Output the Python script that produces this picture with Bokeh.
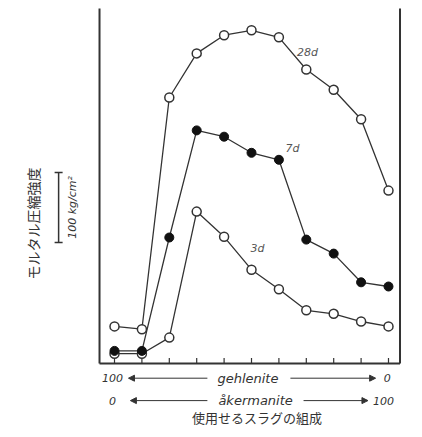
from bokeh.plotting import figure
from bokeh.models import Label, Arrow, NormalHead, TeeHead, Range1d
from bokeh.embed import file_html
from bokeh.resources import INLINE

# composition of the slag (akermanite %, gehlenite = 100 - akermanite)
akermanite = [0, 10, 20, 30, 40, 50, 60, 70, 80, 90, 100]
# mortar compressive strength, kg/cm2
s28 = [53, 49, 380, 443, 469, 476, 466, 420, 391, 349, 247]
s7 = [18, 18, 180, 333, 324, 301, 291, 177, 157, 116, 110]
s3 = [14, 14, 37, 217, 181, 134, 106, 76, 71, 60, 53]
series_labels = ["28d", "7d", "3d"]
ylabel = "モルタル圧縮強度"
scale_label = "100 kg/cm²"
xlabel = "使用せるスラグの組成"

INK = "#333333"
LATIN = "DejaVu Sans"
CJK = "Noto Sans CJK JP"

# the whole canvas is the data frame; the drawn box sits inside it
X0, X1 = -41.61, 112.41
Y0, Y1 = -105.71, 518.57
BOX_L, BOX_R, BOX_T = -5.47, 104.2, 507

p = figure(width=422, height=437, output_backend="svg", toolbar_location=None,
           x_range=Range1d(X0, X1), y_range=Range1d(Y0, Y1),
           x_axis_location=None, y_axis_location=None, title=None,
           min_border=0)
p.outline_line_color = None
p.grid.grid_line_color = None
p.background_fill_color = "white"
p.border_fill_color = "white"

# frame lines (left, right, bottom)
p.segment(x0=[BOX_L, BOX_R, BOX_L], y0=[0, 0, 0], x1=[BOX_L, BOX_R, BOX_R],
          y1=[BOX_T, BOX_T, 0], line_color=INK, line_width=2)
# inward ticks on bottom axis
p.segment(x0=akermanite, y0=[0] * len(akermanite), x1=akermanite,
          y1=[8] * len(akermanite), line_color=INK, line_width=1.2)

# series
p.line(akermanite, s3, line_color=INK, line_width=1.3)
p.scatter(akermanite, s3, size=9, marker="circle", fill_color="white",
          line_color=INK, line_width=1.5)
p.line(akermanite, s7, line_color=INK, line_width=1.3)
p.scatter(akermanite, s7, size=9, marker="circle", fill_color="#111111",
          line_color="#111111")
p.line(akermanite, s28, line_color=INK, line_width=1.3)
p.scatter(akermanite, s28, size=9, marker="circle", fill_color="white",
          line_color=INK, line_width=1.5)

# series labels
for txt, (lx, ly) in zip(series_labels, [(70.4, 444), (65, 307), (52.2, 164)]):
    p.add_layout(Label(x=lx, y=ly, text=txt, text_font=LATIN, text_font_style="italic",
                       text_font_size="11px", text_color="#555555",
                       text_align="center", text_baseline="middle"))

# x composition labels
def row_label(x, y, t, size="12px"):
    p.add_layout(Label(x=x, y=y, text=t, text_font=LATIN, text_font_style="italic",
                       text_font_size=size, text_color=INK,
                       text_align="center", text_baseline="middle"))

def arrow(x0, x1, y):
    p.add_layout(Arrow(end=NormalHead(size=6, fill_color=INK, line_color=INK),
                       x_start=x0, y_start=y, x_end=x1, y_end=y,
                       line_color=INK, line_width=1))

row_label(-0.7, -21, "100", "11px")
arrow(33.9, 5.1, -21)
row_label(48.7, -21, "gehlenite", "13px")
arrow(64.2, 95.3, -21)
row_label(99.5, -21, "0", "11px")

row_label(-0.7, -53, "0", "11px")
arrow(33.9, 5.8, -53)
row_label(51.5, -53, "åkermanite", "13px")
arrow(69.0, 92.5, -53)
row_label(98.2, -53, "100", "11px")

p.add_layout(Label(x=52, y=-77, text=xlabel, text_font=CJK, text_font_size="13px",
                   text_color=INK, text_align="center", text_baseline="middle"))

# y label and scale bar
p.add_layout(Label(x=-29.6, y=200, text=ylabel, text_font=CJK, text_font_size="14px",
                   text_color=INK, text_align="center", text_baseline="middle",
                   angle=1.5708))
p.add_layout(Arrow(start=TeeHead(size=8, line_color=INK, line_width=1.5),
                   end=TeeHead(size=8, line_color=INK, line_width=1.5),
                   x_start=-20.4, y_start=173, x_end=-20.4, y_end=273,
                   line_color=INK, line_width=1.5))
p.add_layout(Label(x=-15.3, y=223, text=scale_label, text_font=LATIN,
                   text_font_style="italic", text_font_size="11px", text_color=INK,
                   text_align="center", text_baseline="middle", angle=1.5708))

open("out.html", "w").write(file_html(p, INLINE))
